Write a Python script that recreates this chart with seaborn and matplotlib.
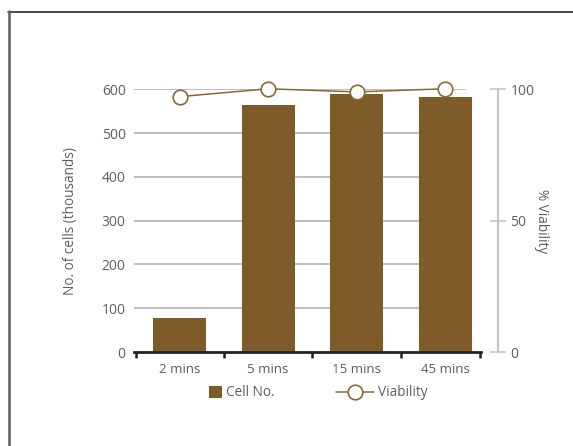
import numpy as np
import matplotlib
matplotlib.use("Agg")
import matplotlib.pyplot as plt
from matplotlib.lines import Line2D
from matplotlib.patches import Patch
import seaborn as sns

# Data
categories = ["2 mins", "5 mins", "15 mins", "45 mins"]
cell_counts = [78, 565, 589, 583]          # thousands of cells
viability = [97.2, 100.2, 99.0, 100.2]     # percent

BROWN = "#7f5b29"
LINE_BROWN = "#8a6733"
TEXT = "#5e5e5e"
GRID = "#b9b9b9"
RIGHT_AXIS = "#c6c6c6"

sns.set_style("white")
plt.rcParams["font.family"] = ["Open Sans", "DejaVu Sans"]
plt.rcParams["font.size"] = 9.6

W, H = 573, 446
fig = plt.figure(figsize=(W / 100, H / 100), dpi=100)

# Axes box in pixel terms
left_px, right_px, top_px, bottom_px = 134, 481, 89.3, 352
ax = fig.add_axes([left_px / W, (H - bottom_px) / H,
                   (right_px - left_px) / W, (bottom_px - top_px) / H])

positions = np.arange(len(categories))
sns.barplot(x=categories, y=cell_counts, color=BROWN, saturation=1,
            width=0.6, ax=ax, zorder=3, edgecolor="none")

ax.set_ylim(0, 600)
ax.set_xlim(-0.514, 3.403)

# Horizontal grid lines stop short of the axis end
for yv in range(100, 700, 100):
    ax.axhline(yv, xmin=0, xmax=0.954, color=GRID, lw=1.3, zorder=1)

for s in ("left", "top", "right"):
    ax.spines[s].set_visible(False)
ax.spines["bottom"].set_color("#222222")
ax.spines["bottom"].set_linewidth(2.0)
ax.spines["bottom"].set_zorder(4)

ax.set_yticks(range(0, 700, 100))
ax.tick_params(axis="y", length=0, pad=6, labelcolor=TEXT, labelsize=10)
ax.set_xticks(positions)
ax.set_xticklabels(categories)
ax.tick_params(axis="x", which="major", bottom=True, length=0, pad=8,
               labelcolor=TEXT, labelsize=9.6)

# Short downward marks at the category boundaries
x0, x1 = ax.get_xlim()
bounds = [x0 + 0.02] + list(positions[:-1] + 0.5) + [x1 - 0.012]
ax.set_xticks(bounds, minor=True)
ax.tick_params(axis="x", which="minor", bottom=True, length=4.5, width=1.8,
               color="#222222", direction="out")

ax.set_xlabel("")
ax.set_ylabel("No. of cells (thousands)", color=TEXT, fontsize=9.8, labelpad=17)

# Viability on a secondary axis
ax2 = ax.twinx()
sns.lineplot(x=positions, y=viability, ax=ax2, color=LINE_BROWN, lw=1.1,
             marker="o", markersize=10.5, markerfacecolor="white",
             markeredgecolor=LINE_BROWN, markeredgewidth=1.2,
             clip_on=False, zorder=5)
ax2.set_ylim(0, 100)
for s in ("left", "top", "bottom"):
    ax2.spines[s].set_visible(False)
ax2.spines["right"].set_position(("outward", 12))
ax2.spines["right"].set_color(RIGHT_AXIS)
ax2.spines["right"].set_linewidth(1.6)
ax2.spines["right"].set_bounds(0, 100)
ax2.set_yticks([0, 50, 100])
ax2.tick_params(axis="y", right=True, direction="inout", length=11.5, width=1.2,
                color=RIGHT_AXIS, pad=3.4, labelcolor=TEXT, labelsize=10)
ax2.set_ylabel("% Viability", rotation=270, va="bottom", color=TEXT,
               fontsize=9.8, labelpad=0)
ax.set_zorder(ax2.get_zorder() - 1)
ax2.patch.set_visible(False)

# Legend entries
leg_y = (H - 393) / H
h1 = Patch(facecolor=BROWN, edgecolor="none")
leg1 = fig.legend([h1], ["Cell No."], loc="center left",
                  bbox_to_anchor=(209 / W, leg_y), frameon=False,
                  handlelength=0.98, handleheight=1.06, handletextpad=0.3,
                  borderpad=0, borderaxespad=0, labelcolor=TEXT, fontsize=9.8)
h2 = Line2D([], [], color=LINE_BROWN, lw=1.1, marker="o", markersize=10.5,
            markerfacecolor="white", markeredgecolor=LINE_BROWN,
            markeredgewidth=1.2)
leg2 = fig.legend([h2], ["Viability"], loc="center left",
                  bbox_to_anchor=(335.5 / W, leg_y), frameon=False,
                  handlelength=2.8, handletextpad=0.3,
                  borderpad=0, borderaxespad=0, labelcolor=TEXT, fontsize=9.8)

# Outer frame running off the right and bottom edges
fig.add_artist(Line2D([8 / W, 1.01], [(H - 11.5) / H] * 2,
                      transform=fig.transFigure, color="#2b2b2b", lw=1.2))
fig.add_artist(Line2D([9 / W] * 2, [(H - 11) / H, -0.01],
                      transform=fig.transFigure, color="#5f5f5f", lw=1.8))

fig.savefig("out.png", dpi=100)
